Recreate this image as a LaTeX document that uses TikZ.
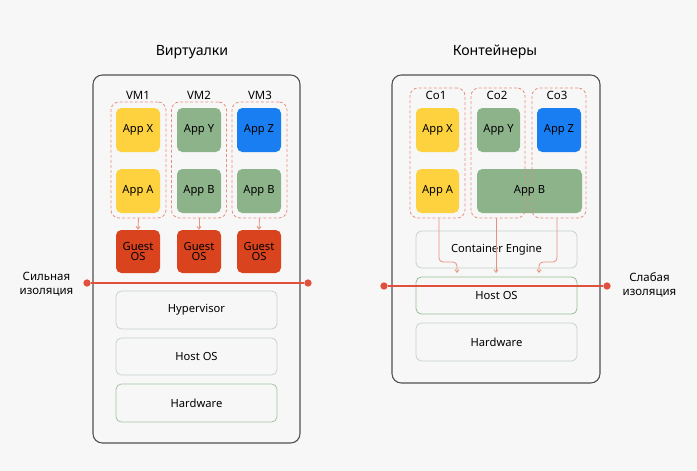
\documentclass[tikz,border=0pt]{standalone}
\usepackage{fontspec}
\setmainfont{Noto Sans}
\usetikzlibrary{arrows.meta}
\definecolor{bg}{HTML}{F7F7F7}
\definecolor{frame}{HTML}{505050}
\definecolor{appyellow}{HTML}{FDD23E}
\definecolor{appgreen}{HTML}{8DB38B}
\definecolor{appblue}{HTML}{1A7EF3}
\definecolor{guestred}{HTML}{D9431E}
\definecolor{linered}{HTML}{E0503C}
\definecolor{dashred}{HTML}{E8907E}
\definecolor{layerborder}{HTML}{C9D4C9}
\definecolor{layergreen}{HTML}{98C096}
\tikzset{
  panel/.style={draw=frame, line width=0.8pt, rounded corners=7pt},
  group/.style={draw=dashred, line width=0.6pt, rounded corners=6pt, dash pattern=on 2.2pt off 1.6pt},
  app/.style={rounded corners=4pt, inner sep=0pt, font=\fontsize{8.4}{9}\selectfont},
  layer/.style={draw=layerborder, line width=0.6pt, rounded corners=4pt, inner sep=0pt, font=\fontsize{8.4}{9}\selectfont},
  grplabel/.style={font=\fontsize{8.6}{9}\selectfont},
  title/.style={font=\fontsize{10.6}{12}\selectfont},
  sidelabel/.style={font=\fontsize{8.6}{11}\selectfont, align=center},
  flow/.style={draw=dashred, line width=0.6pt, -{Straight Barb[length=2pt,width=3pt]}},
  dot/.style={circle, fill=linered, inner sep=0pt, minimum size=5.5pt},
  iso/.style={draw=linered, line width=0.8pt},
}
\begin{document}
\begin{tikzpicture}[x=0.75pt,y=-0.75pt]
\fill[bg] (0,0) rectangle (697,471);
\useasboundingbox (0,0) rectangle (697,471);

% ---------- Left: Virtual machines ----------
\node[title] (t1) at (192,52) {Виртуалки};
\draw[panel] (93,75) rectangle (300,443);

\node[grplabel] (vm1l) at (138,95) {VM1};
\node[grplabel] (vm2l) at (199,95) {VM2};
\node[grplabel] (vm3l) at (260,95) {VM3};

\node[app, fill=appyellow, minimum width=44*0.75pt, minimum height=44*0.75pt] (vx) at (138,130) {App X};
\node[app, fill=appyellow, minimum width=44*0.75pt, minimum height=44*0.75pt] (va) at (138,191) {App A};
\node[app, fill=appgreen, minimum width=44*0.75pt, minimum height=44*0.75pt] (vy) at (199,130) {App Y};
\node[app, fill=appgreen, minimum width=44*0.75pt, minimum height=44*0.75pt] (vb1) at (199,191) {App B};
\node[app, fill=appblue, minimum width=44*0.75pt, minimum height=44*0.75pt] (vz) at (259,130) {App Z};
\node[app, fill=appgreen, minimum width=44*0.75pt, minimum height=44*0.75pt] (vb2) at (259,191) {App B};

\node[group, minimum width=55*0.75pt, minimum height=116*0.75pt] (vm1) at (138.5,160) {};
\node[group, minimum width=55*0.75pt, minimum height=116*0.75pt] (vm2) at (199,160) {};
\node[group, minimum width=55*0.75pt, minimum height=116*0.75pt] (vm3) at (259.5,160) {};

\node[app, fill=guestred, minimum width=44*0.75pt, minimum height=43*0.75pt, align=center] (g1) at (138,251.5) {Guest\\[-1pt]OS};
\node[app, fill=guestred, minimum width=44*0.75pt, minimum height=43*0.75pt, align=center] (g2) at (199,251.5) {Guest\\[-1pt]OS};
\node[app, fill=guestred, minimum width=44*0.75pt, minimum height=43*0.75pt, align=center] (g3) at (259,251.5) {Guest\\[-1pt]OS};

\draw[flow] (vm1.south) -- (g1.north);
\draw[flow] (vm2.south) -- (g2.north);
\draw[flow] (vm3.south) -- (g3.north);

\node[layer, minimum width=161*0.75pt, minimum height=38*0.75pt] (hyp) at (196.5,310) {Hypervisor};
\node[layer, minimum width=161*0.75pt, minimum height=37*0.75pt] (host1) at (196.5,356.5) {Host OS};
\node[layer, draw=layergreen!70!layerborder, minimum width=161*0.75pt, minimum height=38*0.75pt] (hw1) at (196.5,403) {Hardware};

\node[dot] (d1) at (87,283) {};
\node[dot] (d2) at (308,283) {};
\draw[iso] (d1) -- (d2);
\node[sidelabel, anchor=east] (strong) at (78,284) {Сильная\\изоляция};

% ---------- Right: Containers ----------
\node[title] (t2) at (495,52) {Контейнеры};
\draw[panel] (392,75) rectangle (600,383);

\node[app, fill=appyellow, minimum width=43*0.75pt, minimum height=44*0.75pt] (cx) at (437.5,130) {App X};
\node[app, fill=appyellow, minimum width=43*0.75pt, minimum height=44*0.75pt] (ca) at (437.5,191) {App A};
\node[app, fill=appgreen, minimum width=43*0.75pt, minimum height=44*0.75pt] (cy) at (498.5,130) {App Y};
\node[app, fill=appblue, minimum width=44*0.75pt, minimum height=44*0.75pt] (cz) at (559,130) {App Z};
\node[app, fill=appgreen, minimum width=105*0.75pt, minimum height=44*0.75pt] (cb) at (529.5,191) {};

\node[group, minimum width=55*0.75pt, minimum height=130*0.75pt] (co1) at (437.5,153) {};
\node[group, minimum width=54*0.75pt, minimum height=130*0.75pt] (co2) at (498,153) {};
\node[group, minimum width=54*0.75pt, minimum height=130*0.75pt] (co3) at (559,153) {};

\node[font=\fontsize{8.4}{9}\selectfont] (cbt) at (529.5,191) {App B};

\node[grplabel] (co1l) at (436,95) {Co1};
\node[grplabel] (co2l) at (497,95) {Co2};
\node[grplabel] (co3l) at (557,95) {Co3};

\node[layer, minimum width=161*0.75pt, minimum height=37*0.75pt] (ce) at (496.5,249.5) {Container Engine};
\node[layer, draw=layergreen, minimum width=161*0.75pt, minimum height=37*0.75pt] (host2) at (496.5,295.5) {Host OS};
\node[layer, minimum width=161*0.75pt, minimum height=38*0.75pt] (hw2) at (496.5,342) {Hardware};

\coordinate (a1e) at (457,273);
\coordinate (a2e) at (496,273);
\coordinate (a3e) at (539,273);
\draw[flow, rounded corners=3pt] (co1.south -| 439,0) |- (448,262) -| (a1e);
\draw[flow] (co2.south -| a2e) -- (a2e);
\draw[flow, rounded corners=3pt] (co3.south -| 557,0) |- (548,262) -| (a3e);

\node[dot] (d3) at (384,286) {};
\node[dot] (d4) at (607,286) {};
\draw[iso] (d3) -- (d4);
\node[sidelabel, anchor=west] (weak) at (618,285) {Слабая\\изоляция};
\end{tikzpicture}
\end{document}
